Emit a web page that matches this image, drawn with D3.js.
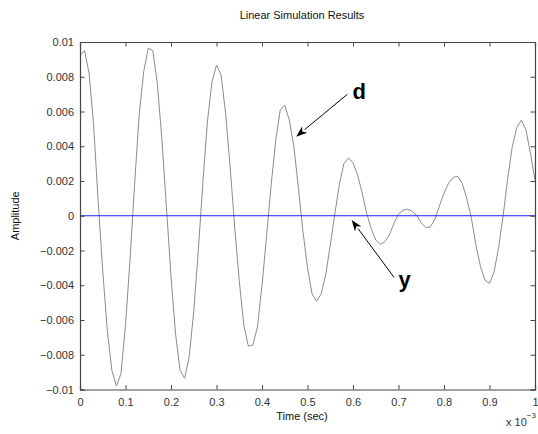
<!DOCTYPE html>
<html>
<head>
<meta charset="utf-8">
<script src="https://cdn.jsdelivr.net/npm/d3@7"></script>
<style>
  body { margin: 0; background: #fff; }
  text { font-family: "Liberation Sans", Arial, Helvetica, sans-serif; }
</style>
</head>
<body>
<div id="chart"></div>
<script>
// time axis in units of 1e-3 s (0..1), sampled every 0.01
const timeMs = d3.range(101).map(i => i / 100)

// output d, in units of 1e-3
const dValues = [
  9.24, 9.50, 8.20, 5.20, 0.80, -3.20, -6.60, -8.90, -9.80, -9.10,
  -6.30, -2.50, 1.80, 5.80, 8.30, 9.65, 9.50, 7.60, 4.40, 0.50,
  -3.50, -6.80, -8.90, -9.35, -8.10, -5.50, -2.00, 1.90, 5.40, 7.70,
  8.67, 8.10, 5.90, 2.80, -0.65, -3.75, -6.30, -7.50, -7.44, -6.40,
  -4.00, -1.20, 1.75, 4.30, 6.08, 6.37, 5.50, 4.00, 1.60, -0.90,
  -3.00, -4.50, -4.92, -4.50, -3.40, -1.70, 0.10, 1.80, 3.00, 3.33,
  3.05, 2.35, 1.33, 0.15, -0.75, -1.40, -1.65, -1.50, -1.10, -0.45,
  0.10, 0.32, 0.38, 0.26, 0.02, -0.40, -0.68, -0.65, -0.19, 0.56,
  1.30, 1.87, 2.20, 2.28, 1.87, 1.00, -0.10, -1.67, -2.90, -3.70,
  -3.89, -3.23, -1.83, 0.00, 2.15, 3.97, 5.08, 5.50, 4.95, 3.60,
  2.05
]
// output y is flat at zero
const yValues = timeMs.map(() => 0)

const xTicks = [0, 0.1, 0.2, 0.3, 0.4, 0.5, 0.6, 0.7, 0.8, 0.9, 1]
const yTicks = [-0.01, -0.008, -0.006, -0.004, -0.002, 0, 0.002, 0.004, 0.006, 0.008, 0.01]
const yTickLabels = ['\u22120.01', '\u22120.008', '\u22120.006', '\u22120.004', '\u22120.002',
  '0', '0.002', '0.004', '0.006', '0.008', '0.01']

// annotation labels: text position and arrow tail/tip in data units (t in ms, amp in 1e-3)
const notes = [
  { label: 'd', tx: 0.599, ty: 6.72, x1: 0.5875, y1: 6.99, x2: 0.475, y2: 4.55 },
  { label: 'y', tx: 0.700, ty: -4.10, x1: 0.690, y1: -3.54, x2: 0.597, y2: -0.24 }
]

const W = 538, H = 434
const m = { left: 80, right: 535, top: 42, bottom: 389.5 }
const axisColor = '#444'
const textColor = '#333'

const x = d3.scaleLinear().domain([0, 1]).range([m.left, m.right])
const y = d3.scaleLinear().domain([-0.01, 0.01]).range([m.bottom, m.top])

const svg = d3.select('#chart').append('svg')
  .attr('width', W).attr('height', H)

// series
const line = d3.line()
  .x((d, i) => x(timeMs[i]))
  .y(d => y(d))

svg.append('path')
  .datum(dValues.map(v => v / 1000))
  .attr('d', line)
  .attr('fill', 'none')
  .attr('stroke', '#8c8c8c')
  .attr('stroke-width', 1)

svg.append('path')
  .datum(yValues)
  .attr('d', line)
  .attr('fill', 'none')
  .attr('stroke', '#1a1aff')
  .attr('stroke-width', 1.2)

// axes (inward ticks, box on)
const tk = 4.5
const xb = svg.append('g').attr('transform', `translate(0,${m.bottom})`)
  .call(d3.axisBottom(x).tickValues(xTicks).tickSize(-tk).tickPadding(9)
    .tickFormat(d => d3.format('')(+d.toFixed(1))))
const yl = svg.append('g').attr('transform', `translate(${m.left},0)`)
  .call(d3.axisLeft(y).tickValues(yTicks).tickSize(-tk).tickPadding(6)
    .tickFormat((d, i) => yTickLabels[i]))
const xt = svg.append('g').attr('transform', `translate(0,${m.top})`)
  .call(d3.axisTop(x).tickValues(xTicks).tickSize(-tk).tickFormat(''))
const yr = svg.append('g').attr('transform', `translate(${m.right},0)`)
  .call(d3.axisRight(y).tickValues(yTicks).tickSize(-tk).tickFormat(''))

for (const g of [xb, yl, xt, yr]) {
  g.select('.domain').attr('stroke', axisColor).attr('stroke-width', 1.2)
  g.selectAll('.tick line').attr('stroke', axisColor)
  g.selectAll('.tick text')
    .attr('fill', textColor)
    .style('font-size', '11px')
    .style('font-family', '"Liberation Sans", Arial, sans-serif')
}

// titles
svg.append('text')
  .attr('x', 302).attr('y', 19)
  .attr('text-anchor', 'middle')
  .style('font-size', '11px')
  .attr('fill', '#111')
  .text('Linear Simulation Results')

svg.append('text')
  .attr('x', 302).attr('y', 420)
  .attr('text-anchor', 'middle')
  .style('font-size', '11px')
  .attr('fill', '#111')
  .text('Time (sec)')

svg.append('text')
  .attr('transform', `translate(19,${y(0)}) rotate(-90)`)
  .attr('text-anchor', 'middle')
  .style('font-size', '11px')
  .attr('fill', '#111')
  .text('Amplitude')

// exponent label
const ex = svg.append('text')
  .attr('x', 506).attr('y', 426)
  .style('font-size', '11px')
  .attr('fill', textColor)
ex.append('tspan').text('x 10')
ex.append('tspan').attr('dy', -8).style('font-size', '8px').text('\u22123')

// annotations
const ann = svg.append('g')
notes.forEach(n => {
  const ax1 = x(n.x1), ay1 = y(n.y1 / 1000)
  const ax2 = x(n.x2), ay2 = y(n.y2 / 1000)
  const ang = Math.atan2(ay2 - ay1, ax2 - ax1)
  const len = 11, half = 4
  const bx = ax2 - len * Math.cos(ang), by = ay2 - len * Math.sin(ang)
  ann.append('line')
    .attr('x1', ax1).attr('y1', ay1).attr('x2', bx).attr('y2', by)
    .attr('stroke', '#000').attr('stroke-width', 1)
  const px = -Math.sin(ang), py = Math.cos(ang)
  ann.append('path')
    .attr('d', `M${ax2},${ay2} L${bx + half * px},${by + half * py} L${bx + 3 * Math.cos(ang)},${by + 3 * Math.sin(ang)} L${bx - half * px},${by - half * py} Z`)
    .attr('fill', '#000')
  ann.append('text')
    .attr('x', x(n.tx)).attr('y', y(n.ty / 1000))
    .style('font-size', '22px').style('font-weight', 'bold')
    .attr('fill', '#000')
    .text(n.label)
})
</script>
</body>
</html>
